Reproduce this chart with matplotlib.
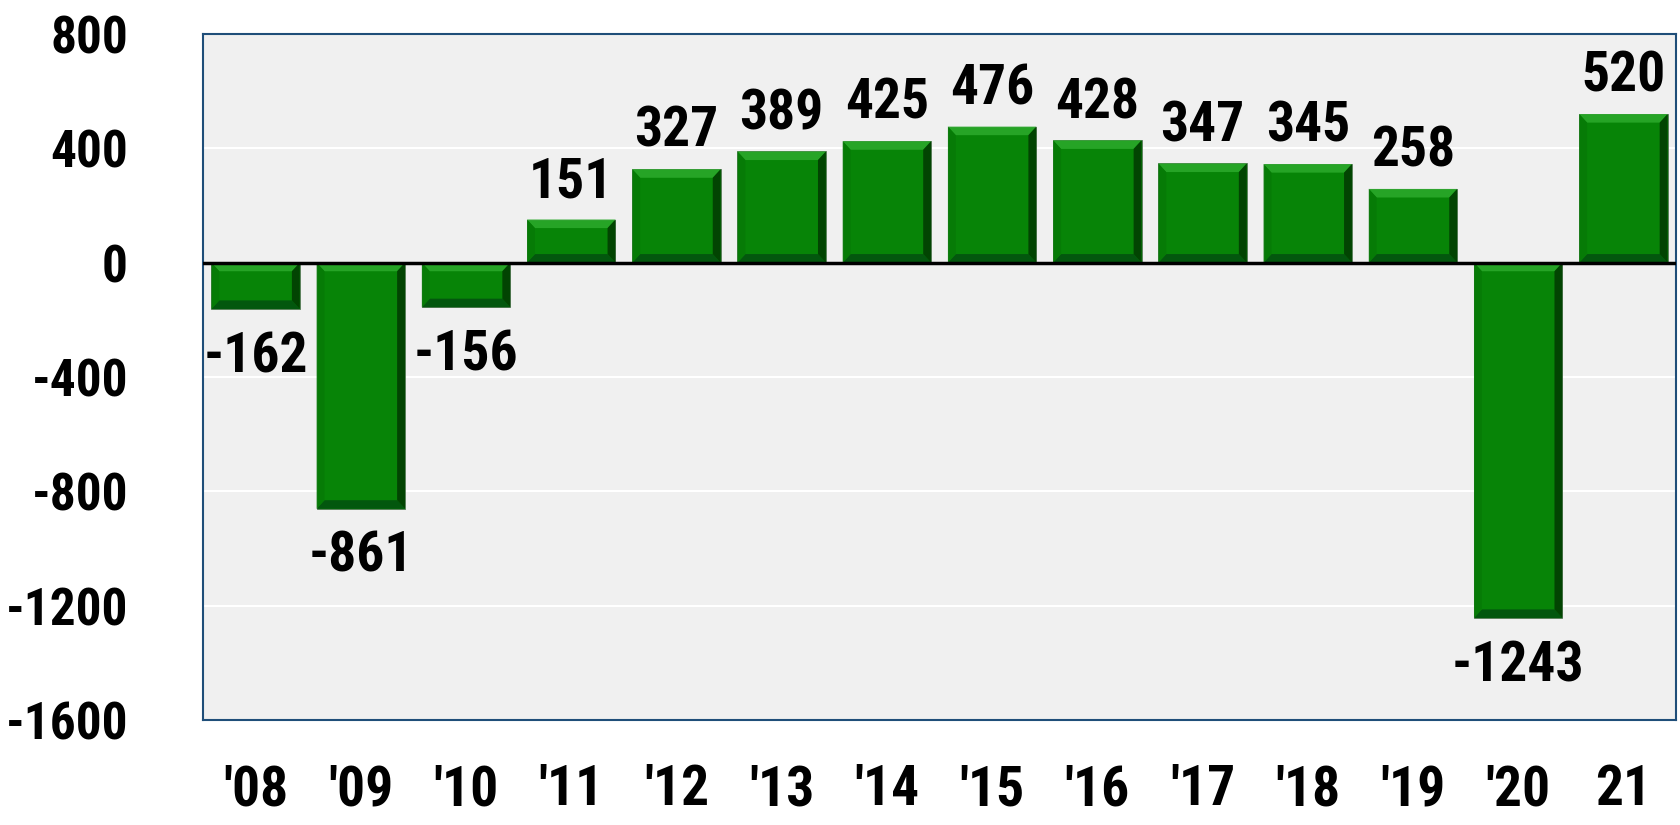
import matplotlib
matplotlib.use("Agg")
import matplotlib.pyplot as plt
from matplotlib.patches import Polygon

years = ["'08", "'09", "'10", "'11", "'12", "'13", "'14", "'15", "'16",
         "'17", "'18", "'19", "'20", "21"]
values = [-162, -861, -156, 151, 327, 389, 425, 476, 428, 347, 345, 258, -1243, 520]
yticks = [800, 400, 0, -400, -800, -1200, -1600]

plt.rcParams["font.family"] = ["Roboto Condensed", "Liberation Sans", "DejaVu Sans"]
plt.rcParams["font.weight"] = "bold"

GREEN = "#078407"
FS = 40
CAP = 0.711 * FS  # cap height in points

fig = plt.figure(figsize=(16.8, 8.25), dpi=100)
ax = fig.add_axes([203 / 1680, 1 - 720 / 825, 1473 / 1680, 686 / 825])
ax.set_facecolor("#f0f0f0")
ax.set_xlim(-0.5, len(years) - 0.5)
ax.set_ylim(-1600, 800)

for y in yticks:
    ax.axhline(y, color="white", lw=1.5, zorder=1)

width = 0.84
bars = ax.bar(range(len(years)), values, width=width, color=GREEN,
              edgecolor="#5a7a5a", linewidth=0.6, zorder=2)


def _bevel(ax, rect, value):
    """ Light top edge, dark right and bottom edges, like a bevelled bar. """
    x0 = rect.get_x()
    x1 = x0 + rect.get_width()
    y0 = min(0, value)
    y1 = max(0, value)
    dx = 0.075
    dy = min(30, (y1 - y0) / 2)
    faces = [
        ([(x0, y1), (x1, y1), (x1 - dx, y1 - dy), (x0 + dx, y1 - dy)], "#2aa82a"),
        ([(x0, y0), (x1, y0), (x1 - dx, y0 + dy), (x0 + dx, y0 + dy)], "#03520f"),
        ([(x1, y0), (x1, y1), (x1 - dx, y1 - dy), (x1 - dx, y0 + dy)], "#023d02"),
        ([(x0, y0), (x0, y1), (x0 + dx, y1 - dy), (x0 + dx, y0 + dy)], "#067a06"),
    ]
    for pts, col in faces:
        ax.add_patch(Polygon(pts, closed=True, facecolor=col, edgecolor="none",
                             alpha=0.9, zorder=3))


for rect, v in zip(bars, values):
    _bevel(ax, rect, v)
    cx = rect.get_x() + rect.get_width() / 2
    if v >= 0:
        offset = 16
    else:
        offset = -(17 + CAP)
    ax.annotate(f"{v}", xy=(cx, v), xytext=(0, offset), textcoords="offset points",
                ha="center", va="baseline", fontsize=FS, fontweight="bold")

ax.axhline(0, color="black", lw=2.5, zorder=4)

ax.set_yticks(yticks)
ax.set_yticklabels([str(t) for t in yticks], fontsize=37, fontweight="bold")
ax.set_xticks(range(len(years)))
ax.set_xticklabels(years, fontsize=FS, fontweight="bold")
ax.tick_params(axis="both", length=0)
ax.tick_params(axis="y", pad=54)
ax.tick_params(axis="x", pad=32)

for spine in ax.spines.values():
    spine.set_color("#1f4e79")
    spine.set_linewidth(1.5)

fig.savefig("out.png", dpi=100)
